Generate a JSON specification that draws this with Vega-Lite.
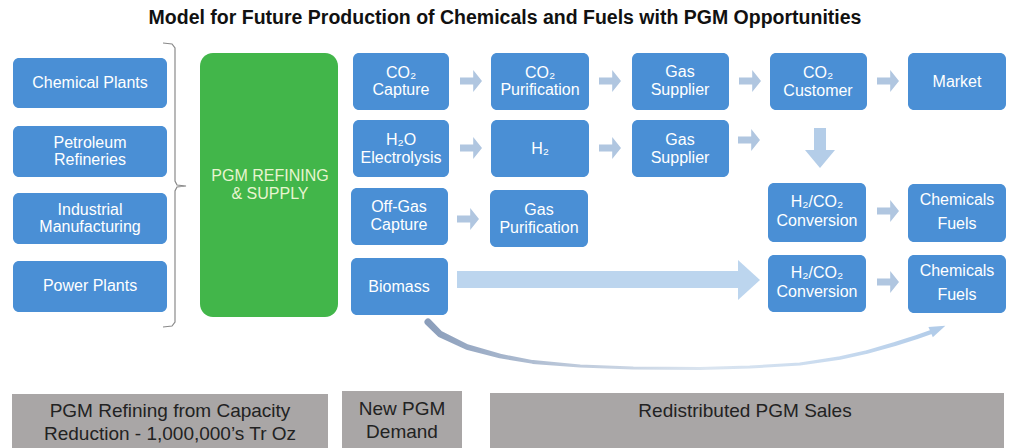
{
  "$schema": "https://vega.github.io/schema/vega-lite/v6.json",
  "width": 1016,
  "height": 448,
  "autosize": {"type": "fit", "contains": "padding"},
  "padding": 0,
  "background": "white",
  "config": {"view": {"stroke": null}},
  "datasets": {
    "boxes": [
      {"name": "Chemical Plants", "x1": 13, "x2": 167, "y1": 58, "y2": 108},
      {"name": "Petroleum Refineries", "x1": 13, "x2": 167, "y1": 126, "y2": 177},
      {"name": "Industrial Manufacturing", "x1": 13, "x2": 167, "y1": 193, "y2": 244},
      {"name": "Power Plants", "x1": 13, "x2": 167, "y1": 261, "y2": 312},
      {"name": "CO2 Capture", "x1": 353, "x2": 449, "y1": 53, "y2": 110},
      {"name": "H2O Electrolysis", "x1": 353, "x2": 449, "y1": 120, "y2": 177},
      {"name": "Off-Gas Capture", "x1": 351, "x2": 448, "y1": 188, "y2": 245},
      {"name": "Biomass", "x1": 351, "x2": 448, "y1": 258, "y2": 315},
      {"name": "CO2 Purification", "x1": 491, "x2": 589, "y1": 53, "y2": 110},
      {"name": "H2", "x1": 491, "x2": 589, "y1": 120, "y2": 177},
      {"name": "Gas Purification", "x1": 490, "x2": 588, "y1": 190, "y2": 247},
      {"name": "Gas Supplier 1", "x1": 632, "x2": 729, "y1": 53, "y2": 110},
      {"name": "Gas Supplier 2", "x1": 632, "x2": 729, "y1": 120, "y2": 177},
      {"name": "CO2 Customer", "x1": 770, "x2": 867, "y1": 53, "y2": 110},
      {"name": "Conversion 1", "x1": 768, "x2": 866, "y1": 183, "y2": 242},
      {"name": "Conversion 2", "x1": 768, "x2": 866, "y1": 255, "y2": 312},
      {"name": "Market", "x1": 908, "x2": 1006, "y1": 53, "y2": 110},
      {"name": "Chemicals Fuels 1", "x1": 908, "x2": 1006, "y1": 184, "y2": 242},
      {"name": "Chemicals Fuels 2", "x1": 908, "x2": 1006, "y1": 255, "y2": 313}
    ],
    "green": [{"name": "PGM Refining & Supply", "x1": 200, "x2": 338, "y1": 53, "y2": 317}],
    "gray": [
      {"name": "PGM Refining from Capacity Reduction", "x1": 12, "x2": 328, "y1": 394, "y2": 448},
      {"name": "New PGM Demand", "x1": 342, "x2": 462, "y1": 391, "y2": 448},
      {"name": "Redistributed PGM Sales", "x1": 490, "x2": 1004, "y1": 393, "y2": 448}
    ],
    "labels": [
      {"t": "Chemical Plants", "x": 90, "y": 83},
      {"t": "Petroleum", "x": 90, "y": 143},
      {"t": "Refineries", "x": 90, "y": 160},
      {"t": "Industrial", "x": 90, "y": 210},
      {"t": "Manufacturing", "x": 90, "y": 227},
      {"t": "Power Plants", "x": 90, "y": 286},
      {"t": "CO₂", "x": 401, "y": 73},
      {"t": "Capture", "x": 401, "y": 90},
      {"t": "H₂O", "x": 401, "y": 140},
      {"t": "Electrolysis", "x": 401, "y": 158},
      {"t": "Off-Gas", "x": 399, "y": 207},
      {"t": "Capture", "x": 399, "y": 225},
      {"t": "Biomass", "x": 399, "y": 287},
      {"t": "CO₂", "x": 540, "y": 73},
      {"t": "Purification", "x": 540, "y": 90},
      {"t": "H₂", "x": 540, "y": 149},
      {"t": "Gas", "x": 539, "y": 210},
      {"t": "Purification", "x": 539, "y": 228},
      {"t": "Gas", "x": 680, "y": 72},
      {"t": "Supplier", "x": 680, "y": 90},
      {"t": "Gas", "x": 680, "y": 140},
      {"t": "Supplier", "x": 680, "y": 158},
      {"t": "CO₂", "x": 818, "y": 73},
      {"t": "Customer", "x": 818, "y": 91},
      {"t": "H₂/CO₂", "x": 817, "y": 202},
      {"t": "Conversion", "x": 817, "y": 221},
      {"t": "H₂/CO₂", "x": 817, "y": 273},
      {"t": "Conversion", "x": 817, "y": 292},
      {"t": "Market", "x": 957, "y": 82},
      {"t": "Chemicals", "x": 957, "y": 200},
      {"t": "Fuels", "x": 957, "y": 224},
      {"t": "Chemicals", "x": 957, "y": 271},
      {"t": "Fuels", "x": 957, "y": 295}
    ],
    "greenLabels": [
      {"t": "PGM REFINING", "x": 270, "y": 176},
      {"t": "& SUPPLY", "x": 270, "y": 194}
    ],
    "grayLabels": [
      {"t": "PGM Refining from Capacity", "x": 170, "y": 411},
      {"t": "Reduction - 1,000,000’s Tr Oz", "x": 170, "y": 434},
      {"t": "New PGM", "x": 402, "y": 409},
      {"t": "Demand", "x": 402, "y": 432},
      {"t": "Redistributed PGM Sales", "x": 745, "y": 411}
    ],
    "title": [{"t": "Model for Future Production of Chemicals and Fuels with PGM Opportunities", "x": 505, "y": 18}],
    "rightArrows": [
      {"from": "CO2 Capture", "x": 471, "y": 81},
      {"from": "H2O Electrolysis", "x": 471, "y": 148},
      {"from": "Off-Gas Capture", "x": 468, "y": 219},
      {"from": "CO2 Purification", "x": 610, "y": 81},
      {"from": "H2", "x": 610, "y": 148},
      {"from": "Gas Supplier 1", "x": 750, "y": 81},
      {"from": "Gas Supplier 2", "x": 749, "y": 140},
      {"from": "CO2 Customer", "x": 888, "y": 81},
      {"from": "Conversion 1", "x": 888, "y": 211},
      {"from": "Conversion 2", "x": 888, "y": 282}
    ],
    "downArrow": [{"from": "CO2 Customer", "x": 820, "y": 148}],
    "bigShaft": [{"from": "Biomass", "x1": 457, "x2": 740, "y1": 271, "y2": 288}],
    "bigHead": [{"from": "Biomass", "x": 749, "y": 280}],
    "brace": [
      {"o": 1, "x": 163, "y": 43},
      {"o": 2, "x": 172, "y": 44},
      {"o": 3, "x": 175, "y": 48},
      {"o": 4, "x": 175, "y": 181},
      {"o": 5, "x": 177, "y": 185},
      {"o": 6, "x": 186, "y": 186},
      {"o": 7, "x": 177, "y": 187},
      {"o": 8, "x": 175, "y": 191},
      {"o": 9, "x": 175, "y": 322},
      {"o": 10, "x": 172, "y": 326},
      {"o": 11, "x": 163, "y": 327}
    ],
    "curve": [
      {"o": 1, "x": 428, "y": 322, "w": 7},
      {"o": 2, "x": 440, "y": 334, "w": 6.5},
      {"o": 3, "x": 467, "y": 347, "w": 5.5},
      {"o": 4, "x": 500, "y": 356, "w": 4.5},
      {"o": 5, "x": 533, "y": 362, "w": 3.8},
      {"o": 6, "x": 580, "y": 366, "w": 3.2},
      {"o": 7, "x": 633, "y": 368, "w": 3},
      {"o": 8, "x": 700, "y": 368.5, "w": 3},
      {"o": 9, "x": 750, "y": 367, "w": 3},
      {"o": 10, "x": 800, "y": 364, "w": 3.2},
      {"o": 11, "x": 840, "y": 358, "w": 3.5},
      {"o": 12, "x": 867, "y": 352, "w": 3.8},
      {"o": 13, "x": 895, "y": 344, "w": 4},
      {"o": 14, "x": 917, "y": 337, "w": 4.2},
      {"o": 15, "x": 934, "y": 331, "w": 4}
    ],
    "curveHead": [{"x": 938, "y": 329}]
  },
  "layer": [
    {
      "data": {"name": "boxes"},
      "mark": {"type": "rect", "color": "#4a8fd5", "cornerRadius": 6},
      "encoding": {
        "x": {"field": "x1", "type": "quantitative", "scale": {"domain": [0, 1016], "nice": false, "zero": false}, "axis": null},
        "x2": {"field": "x2"},
        "y": {"field": "y1", "type": "quantitative", "scale": {"domain": [0, 448], "nice": false, "zero": false, "reverse": true}, "axis": null},
        "y2": {"field": "y2"}
      }
    },
    {
      "data": {"name": "green"},
      "mark": {"type": "rect", "color": "#42b64a", "cornerRadius": 13},
      "encoding": {
        "x": {"field": "x1", "type": "quantitative"},
        "x2": {"field": "x2"},
        "y": {"field": "y1", "type": "quantitative"},
        "y2": {"field": "y2"}
      }
    },
    {
      "data": {"name": "gray"},
      "mark": {"type": "rect", "color": "#a9a6a6"},
      "encoding": {
        "x": {"field": "x1", "type": "quantitative"},
        "x2": {"field": "x2"},
        "y": {"field": "y1", "type": "quantitative"},
        "y2": {"field": "y2"}
      }
    },
    {
      "data": {"name": "bigShaft"},
      "mark": {"type": "rect", "color": "#bcd5ee"},
      "encoding": {
        "x": {"field": "x1", "type": "quantitative"},
        "x2": {"field": "x2"},
        "y": {"field": "y1", "type": "quantitative"},
        "y2": {"field": "y2"}
      }
    },
    {
      "data": {"name": "bigHead"},
      "mark": {"type": "point", "shape": "M-0.55,-1 L0.55,0 L-0.55,1 Z", "size": 1600, "filled": true, "color": "#bcd5ee", "opacity": 1, "strokeWidth": 0},
      "encoding": {
        "x": {"field": "x", "type": "quantitative"},
        "y": {"field": "y", "type": "quantitative"}
      }
    },
    {
      "data": {"name": "rightArrows"},
      "mark": {"type": "point", "shape": "M-1,-0.32 L0.2,-0.32 L0.2,-1 L1,0 L0.2,1 L0.2,0.32 L-1,0.32 Z", "size": 484, "filled": true, "color": "#b0c6e0", "opacity": 1, "strokeWidth": 0},
      "encoding": {
        "x": {"field": "x", "type": "quantitative"},
        "y": {"field": "y", "type": "quantitative"}
      }
    },
    {
      "data": {"name": "downArrow"},
      "mark": {"type": "point", "shape": "M-0.3,-1 L0.3,-1 L0.3,0.1 L0.75,0.1 L0,1 L-0.75,0.1 L-0.3,0.1 Z", "size": 1600, "filled": true, "color": "#b4cde8", "opacity": 1, "strokeWidth": 0},
      "encoding": {
        "x": {"field": "x", "type": "quantitative"},
        "y": {"field": "y", "type": "quantitative"}
      }
    },
    {
      "data": {"name": "brace"},
      "mark": {"type": "line", "color": "#8a8a8a", "strokeWidth": 1.2},
      "encoding": {
        "x": {"field": "x", "type": "quantitative"},
        "y": {"field": "y", "type": "quantitative"},
        "order": {"field": "o", "type": "quantitative"}
      }
    },
    {
      "data": {"name": "curve"},
      "mark": {
        "type": "trail",
        "color": {
          "gradient": "linear",
          "x1": 0, "y1": 0, "x2": 1, "y2": 0,
          "stops": [
            {"offset": 0, "color": "#8a9dba"},
            {"offset": 0.3, "color": "#bfcbdc"},
            {"offset": 0.55, "color": "#dbe5f0"},
            {"offset": 0.8, "color": "#c9dbef"},
            {"offset": 1, "color": "#b2cce9"}
          ]
        }
      },
      "encoding": {
        "x": {"field": "x", "type": "quantitative"},
        "y": {"field": "y", "type": "quantitative"},
        "order": {"field": "o", "type": "quantitative"},
        "size": {"field": "w", "type": "quantitative", "scale": null, "legend": null}
      }
    },
    {
      "data": {"name": "curveHead"},
      "mark": {"type": "point", "shape": "M-1,-0.7 L1,0 L-1,0.7 Z", "size": 256, "angle": 337, "filled": true, "color": "#b2cce9", "opacity": 1, "strokeWidth": 0},
      "encoding": {
        "x": {"field": "x", "type": "quantitative"},
        "y": {"field": "y", "type": "quantitative"}
      }
    },
    {
      "data": {"name": "labels"},
      "mark": {"type": "text", "color": "white", "font": "Liberation Sans", "fontSize": 16, "align": "center", "baseline": "middle"},
      "encoding": {
        "x": {"field": "x", "type": "quantitative"},
        "y": {"field": "y", "type": "quantitative"},
        "text": {"field": "t"}
      }
    },
    {
      "data": {"name": "greenLabels"},
      "mark": {"type": "text", "color": "#e8f5d0", "font": "Liberation Sans", "fontSize": 16, "align": "center", "baseline": "middle"},
      "encoding": {
        "x": {"field": "x", "type": "quantitative"},
        "y": {"field": "y", "type": "quantitative"},
        "text": {"field": "t"}
      }
    },
    {
      "data": {"name": "grayLabels"},
      "mark": {"type": "text", "color": "#222222", "font": "Liberation Sans", "fontSize": 19, "align": "center", "baseline": "middle"},
      "encoding": {
        "x": {"field": "x", "type": "quantitative"},
        "y": {"field": "y", "type": "quantitative"},
        "text": {"field": "t"}
      }
    },
    {
      "data": {"name": "title"},
      "mark": {"type": "text", "color": "#111111", "font": "Liberation Sans", "fontSize": 19.5, "fontWeight": "bold", "align": "center", "baseline": "middle"},
      "encoding": {
        "x": {"field": "x", "type": "quantitative"},
        "y": {"field": "y", "type": "quantitative"},
        "text": {"field": "t"}
      }
    }
  ]
}
